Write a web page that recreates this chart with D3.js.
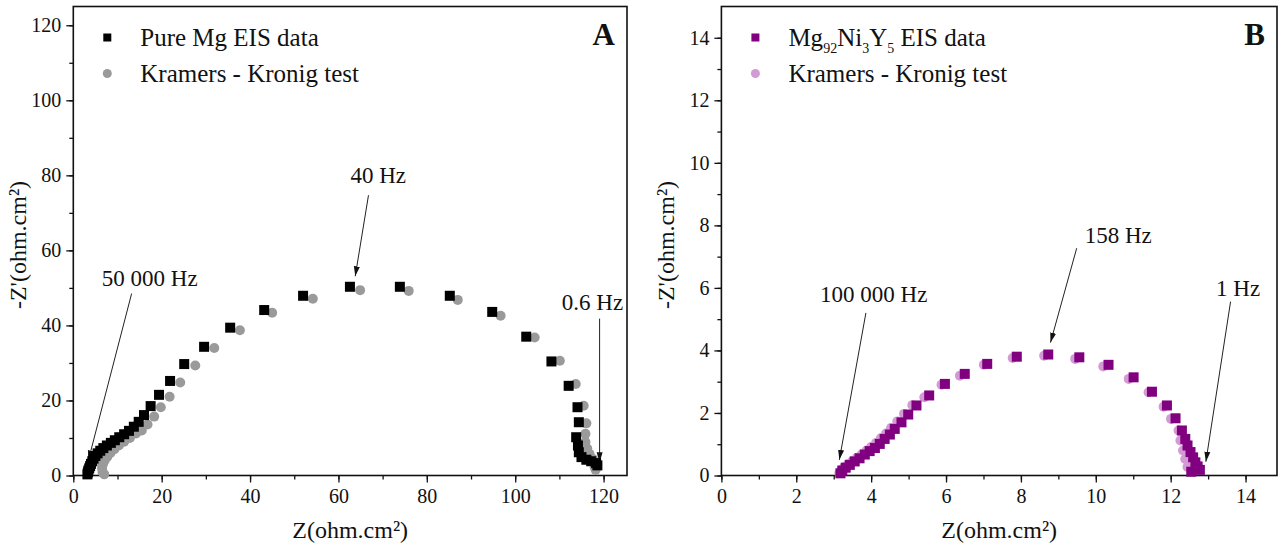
<!DOCTYPE html>
<html>
<head>
<meta charset="utf-8">
<script src="https://cdn.jsdelivr.net/npm/d3@7/dist/d3.min.js"></script>
<style>
  body { margin: 0; background: #fff; }
</style>
</head>
<body>
<svg width="1282" height="547"></svg>
<script>
// panel A : pure Mg, [Z', -Z''] in ohm.cm2
var eisA = [[3.2,0.3],[3.3,0.8],[3.4,1.3],[3.6,1.9],[3.8,2.5],[4.0,3.1],[4.3,3.8],[4.6,4.5],[5.0,5.2],[5.5,5.9],
  [6.1,6.6],[6.8,7.3],[7.6,8.0],[8.5,8.7],[9.4,9.4],[10.4,10.2],[11.5,11.0],[12.6,11.9],[13.7,13.0],[14.8,14.3],
  [16.0,16.1],[17.5,18.5],[19.4,21.5],[21.9,25.2],[25.1,29.7],[29.6,34.3],[35.5,39.4],[43.2,44.1],[52.0,47.9],
  [62.6,50.3],[73.9,50.3],[85.2,47.9],[94.8,43.6],[102.5,37.0],[108.2,30.4],[112.1,23.9],[114.1,18.2],[114.4,14.2],
  [113.8,10.2],[114.2,8.0],[114.4,6.2],[115.0,4.9],[116.1,4.2],[117.2,3.8],[118.3,3.3],[118.6,2.7]];
var kkA = [[7.0,0.3],[6.6,1.0],[6.5,2.0],[6.7,3.0],[7.1,4.0],[7.7,5.0],[8.4,6.0],[9.3,7.0],[10.3,8.0],[11.5,9.0],
  [12.8,10.0],[14.2,11.2],[15.5,12.0],[16.8,13.6],[18.3,15.7],[19.8,18.2],[21.8,21.0],[24.2,24.8],[27.6,29.3],
  [31.9,34.0],[37.7,38.7],[45.0,43.4],[54.2,47.1],[64.9,49.4],[75.9,49.2],[87.0,46.8],[96.7,42.6],[104.4,36.8],
  [110.1,30.6],[113.7,24.4],[115.5,18.6],[116.1,13.9],[115.9,11.1],[115.9,8.9],[116.3,7.2],[116.8,5.8],[117.6,4.4],
  [118.0,2.2],[118.2,1.5]];

// panel B : Mg92Ni3Y5
var eisB = [[3.18,0.07],[3.23,0.16],[3.32,0.25],[3.43,0.34],[3.56,0.45],[3.69,0.55],[3.83,0.67],[3.96,0.78],
  [4.10,0.88],[4.23,1.01],[4.36,1.17],[4.50,1.31],[4.63,1.49],[4.81,1.70],[4.99,1.95],[5.21,2.24],[5.55,2.56],
  [5.97,2.93],[6.50,3.25],[7.10,3.57],[7.89,3.80],[8.73,3.87],[9.56,3.78],[10.34,3.54],[11.01,3.14],[11.50,2.68],
  [11.90,2.24],[12.13,1.83],[12.30,1.44],[12.39,1.17],[12.45,0.96],[12.53,0.75],[12.60,0.58],[12.66,0.42],
  [12.72,0.29],[12.78,0.18],[12.55,0.12]];
var kkB = [[3.15,0.08],[3.20,0.17],[3.28,0.26],[3.38,0.36],[3.50,0.46],[3.62,0.57],[3.75,0.68],[3.88,0.80],
  [4.00,0.91],[4.13,1.04],[4.26,1.19],[4.40,1.34],[4.53,1.52],[4.70,1.73],[4.88,1.97],[5.10,2.25],[5.42,2.50],
  [5.88,2.90],[6.37,3.19],[7.01,3.54],[7.78,3.76],[8.62,3.83],[9.45,3.73],[10.20,3.49],[10.88,3.09],[11.41,2.66],
  [11.81,2.20],[12.01,1.81],[12.21,1.44],[12.26,1.12],[12.33,0.80],[12.39,0.53],[12.45,0.27]];

// frequency notes: label, text [x,y], arrow from [x,y] to [x,y]
var notesA = [
  {label: "50 000 Hz", at: [17.3, 50.4], from: [13.2, 48.5], to: [3.4, 4.0]},
  {label: "40 Hz", at: [69.0, 77.9], from: [66.8, 74.7], to: [63.8, 53.1]},
  {label: "0.6 Hz", at: [117.5, 44.0], from: [119.1, 41.8], to: [119.1, 3.5]}
];
var notesB = [
  {label: "100 000 Hz", at: [4.07, 5.56], from: [3.86, 5.2], to: [3.15, 0.5]},
  {label: "158 Hz", at: [10.6, 7.45], from: [9.49, 7.27], to: [8.79, 4.25]},
  {label: "1 Hz", at: [13.8, 5.74], from: [13.6, 5.56], to: [12.94, 0.44]}
];

var ticksA = d3.range(0, 121, 20), minorA = d3.range(0, 125, 10);
var ticksB = d3.range(0, 15, 2), minorB = d3.range(0, 15, 1);

var serif = "'Liberation Serif', 'Times New Roman', 'DejaVu Serif', serif";
var svg = d3.select("svg").attr("font-family", serif).style("font-family", serif);

svg.append("defs").append("marker")
    .attr("id", "head")
    .attr("viewBox", "0 0 10 10")
    .attr("refX", 10).attr("refY", 5)
    .attr("markerWidth", 10).attr("markerHeight", 10)
    .attr("markerUnits", "userSpaceOnUse")
    .attr("orient", "auto")
  .append("path")
    .attr("d", "M0,2L10,5L0,8Z")
    .attr("fill", "#111");

function panel(o) {
  var x = d3.scaleLinear().domain(o.xdom).range([o.left, o.right]);
  var y = d3.scaleLinear().domain(o.ydom).range([o.bottom, o.top]);
  var g = svg.append("g");

  // minor ticks
  g.append("g").attr("transform", "translate(0," + o.bottom + ")")
    .call(d3.axisBottom(x).tickValues(o.minor).tickSize(4).tickFormat(""));
  g.append("g").attr("transform", "translate(" + o.left + ",0)")
    .call(d3.axisLeft(y).tickValues(o.minor).tickSize(4).tickFormat(""));

  g.append("g").attr("transform", "translate(0," + o.bottom + ")")
    .call(d3.axisBottom(x).tickValues(o.ticks).tickSize(7).tickPadding(6));
  g.append("g").attr("transform", "translate(" + o.left + ",0)")
    .call(d3.axisLeft(y).tickValues(o.ticks).tickSize(7).tickPadding(5));
  g.selectAll(".tick line").attr("stroke", "#111").attr("stroke-width", 1.3);
  g.selectAll(".domain").remove();
  g.selectAll("g").attr("font-family", null).attr("font-size", 20);
  g.selectAll(".tick text").attr("fill", "#111");

  g.append("rect")
    .attr("x", o.left).attr("y", o.top)
    .attr("width", o.right - o.left).attr("height", o.bottom - o.top)
    .attr("fill", "none").attr("stroke", "#111").attr("stroke-width", 1.6);

  // axis titles
  g.append("text")
    .attr("x", (o.left + o.right) / 2).attr("y", 538)
    .attr("text-anchor", "middle").attr("font-size", 24).attr("fill", "#111")
    .text("Z(ohm.cm²)");
  g.append("text")
    .attr("transform", "translate(" + (o.left - 47) + "," + ((o.top + o.bottom) / 2 + 4) + ") rotate(-90)")
    .attr("text-anchor", "middle").attr("font-size", 24).attr("fill", "#111")
    .text("-Z'(ohm.cm²)");

  // notes
  o.notes.forEach(function(n) {
    g.append("line")
      .attr("x1", x(n.from[0])).attr("y1", y(n.from[1]))
      .attr("x2", x(n.to[0])).attr("y2", y(n.to[1]))
      .attr("stroke", "#222").attr("stroke-width", 1)
      .attr("marker-end", "url(#head)");
    g.append("text")
      .attr("x", x(n.at[0])).attr("y", y(n.at[1]))
      .attr("text-anchor", "middle").attr("font-size", 23).attr("fill", "#111")
      .text(n.label);
  });

  // markers
  g.append("g").selectAll("circle").data(o.kk).enter().append("circle")
    .attr("cx", function(d) { return x(d[0]); })
    .attr("cy", function(d) { return y(d[1]); })
    .attr("r", o.size / 2)
    .attr("fill", o.c2);
  g.append("g").selectAll("rect").data(o.eis).enter().append("rect")
    .attr("x", function(d) { return x(d[0]) - o.size / 2; })
    .attr("y", function(d) { return y(d[1]) - o.size / 2; })
    .attr("width", o.size).attr("height", o.size)
    .attr("fill", o.c1);

  // legend
  var lx = o.left + 34, ly = o.top + 31;
  g.append("rect").attr("x", lx - 4).attr("y", ly - 4).attr("width", 8).attr("height", 8).attr("fill", o.c1);
  g.append("circle").attr("cx", lx).attr("cy", ly + 36).attr("r", 4.5).attr("fill", o.c2);
  var t1 = g.append("text").attr("x", lx + 33).attr("y", ly + 8).attr("font-size", 25).attr("fill", "#111");
  o.name(t1);
  g.append("text").attr("x", lx + 33).attr("y", ly + 44).attr("font-size", 25).attr("fill", "#111")
    .text("Kramers - Kronig test");

  g.append("text")
    .attr("x", o.right - 12).attr("y", o.top + 38)
    .attr("text-anchor", "end").attr("font-size", 31).attr("font-weight", "bold").attr("fill", "#111")
    .text(o.tag);
}

panel({
  left: 73.3, right: 627, top: 6.5, bottom: 475.5,
  xdom: [0, 125.3], ydom: [0, 125], ticks: ticksA, minor: minorA,
  eis: eisA, kk: kkA, notes: notesA, size: 10,
  c1: "#000000", c2: "#9a9a9a", tag: "A",
  name: function(t) { t.text("Pure Mg EIS data"); }
});

panel({
  left: 721.4, right: 1277, top: 6.5, bottom: 475.5,
  xdom: [0, 14.84], ydom: [0, 15], ticks: ticksB, minor: minorB,
  eis: eisB, kk: kkB, notes: notesB, size: 10,
  c1: "#800080", c2: "#d39ad3", tag: "B",
  name: function(t) {
    t.append("tspan").text("Mg");
    t.append("tspan").attr("font-size", 14).attr("dy", 7).text("92");
    t.append("tspan").attr("dy", -7).text("Ni");
    t.append("tspan").attr("font-size", 14).attr("dy", 7).text("3");
    t.append("tspan").attr("dy", -7).text("Y");
    t.append("tspan").attr("font-size", 14).attr("dy", 7).text("5");
    t.append("tspan").attr("dy", -7).text(" EIS data");
  }
});
</script>
</body>
</html>
